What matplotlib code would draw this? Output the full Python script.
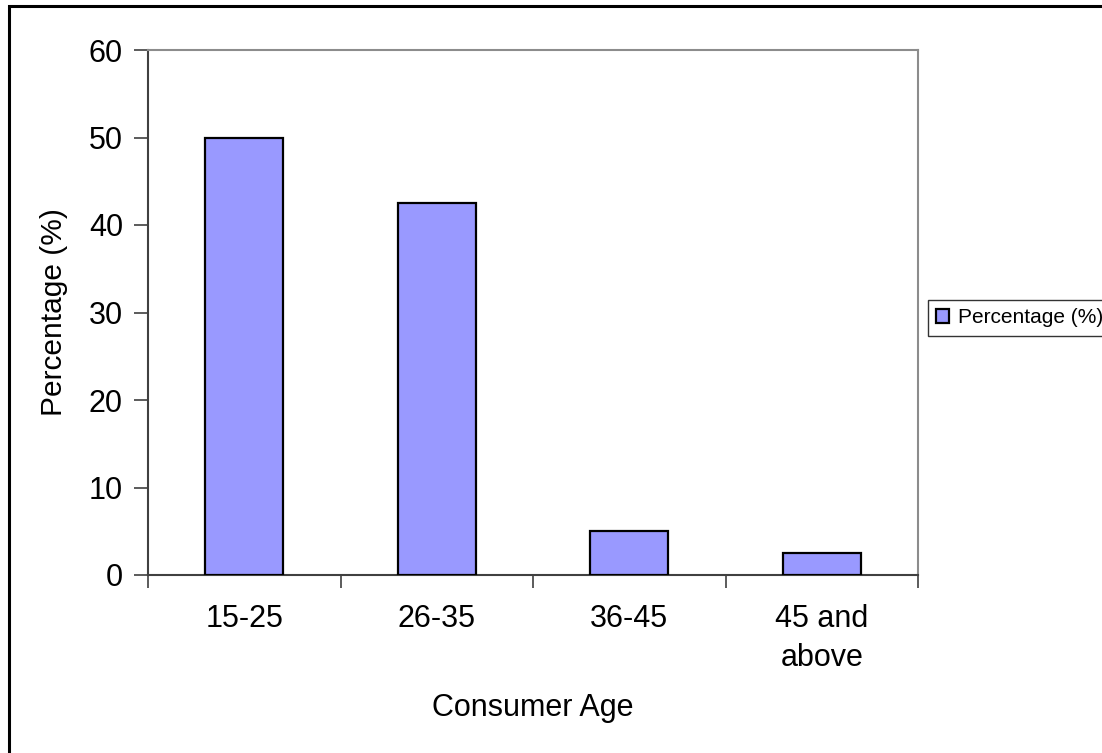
import matplotlib
matplotlib.use("Agg")
import matplotlib.pyplot as plt
from matplotlib.patches import Rectangle

categories = ["15-25", "26-35", "36-45", "45 and\nabove"]
values = [50, 42.5, 5, 2.5]
series_name = "Percentage (%)"
y_ticks = [0, 10, 20, 30, 40, 50, 60]

plt.rcParams['font.family'] = ['Liberation Sans', 'DejaVu Sans']

W, H = 1102, 753
fig = plt.figure(figsize=(W / 100, H / 100), dpi=100)
fig.patch.set_facecolor("white")

# outer chart border (cut off at right and bottom)
fig.patches.append(Rectangle((9 / W, -0.1), 1.2, (H - 6) / H + 0.1,
                             transform=fig.transFigure, fill=False,
                             edgecolor="black", linewidth=2.2))

ax = fig.add_axes([148 / W, (H - 575) / H, 770 / W, 525 / H])
x = list(range(len(categories)))
ax.bar(x, values, width=0.405, color="#9999FF", edgecolor="black",
       linewidth=1.6, label=series_name, zorder=3)

ax.set_xlim(-0.5, len(categories) - 0.5)
ax.set_ylim(0, 60)
ax.set_yticks(y_ticks)
ax.set_yticklabels([str(t) for t in y_ticks])
ax.set_xticks(x)
ax.set_xticklabels(categories, linespacing=1.4)
ax.tick_params(axis="x", which="major", length=0, pad=21, labelsize=22)
ax.set_xticks([i - 0.5 for i in range(len(categories) + 1)], minor=True)
ax.tick_params(axis="x", which="minor", length=9, width=1.2, color="#404040",
               direction="out")
ax.tick_params(axis="y", length=10, width=1.2, color="#404040", pad=8,
               labelsize=22, direction="out")

for s in ["left", "bottom"]:
    ax.spines[s].set_color("#404040")
    ax.spines[s].set_linewidth(1.5)
for s in ["top", "right"]:
    ax.spines[s].set_color("#8c8c8c")
    ax.spines[s].set_linewidth(1.5)

ax.set_ylabel("Percentage (%)", fontsize=21.5)
ax.yaxis.set_label_coords(-0.104, 0.5)
ax.set_xlabel("Consumer Age", fontsize=22)
ax.xaxis.set_label_coords(0.5, -0.224)

leg = fig.legend(loc="upper left", bbox_to_anchor=(928 / W, (H - 300) / H),
                 fontsize=15, frameon=True, fancybox=False,
                 handlelength=0.6, handleheight=0.6, handletextpad=0.45,
                 borderpad=0.4, borderaxespad=0)
leg.get_frame().set_edgecolor("black")
leg.get_frame().set_linewidth(1.0)

fig.savefig("out.png", dpi=100, facecolor="white")
